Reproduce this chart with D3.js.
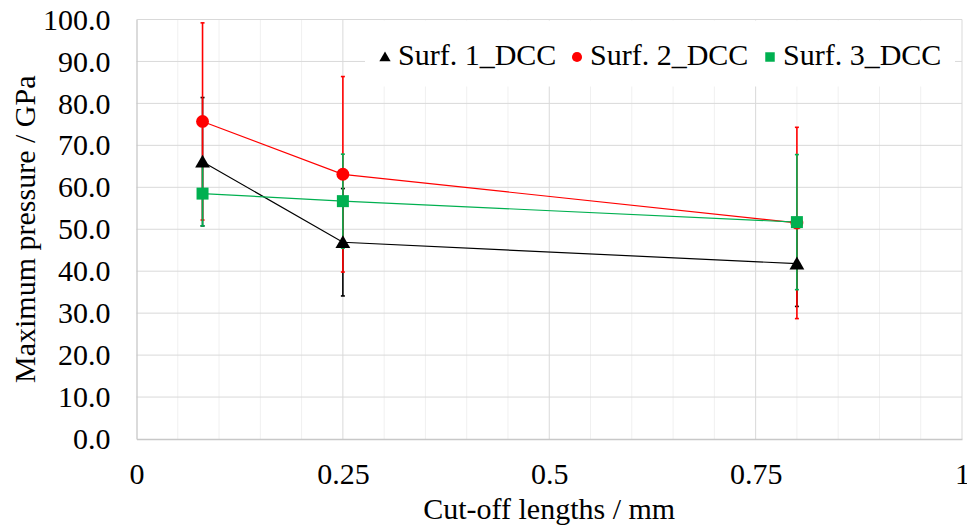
<!DOCTYPE html>
<html>
<head>
<meta charset="utf-8">
<script src="https://cdn.jsdelivr.net/npm/d3@7"></script>
<style>
  body { margin: 0; background: #fff; }
  svg text { font-family: "Liberation Serif", "Times New Roman", Times, "Tinos", "DejaVu Serif", serif !important; }
</style>
</head>
<body>
<svg id="chart" width="967" height="529"></svg>
<script>
const cutoffs = [0.08, 0.25, 0.8];
const seriesNames = ["Surf. 1_DCC", "Surf. 2_DCC", "Surf. 3_DCC"];
const surf1 = [66.1, 46.9, 41.8];
const surf1Err = [15.3, 12.8, 10.2];
const surf2 = [75.7, 63.1, 51.5];
const surf2Err = [23.5, 23.3, 22.8];
const surf3 = [58.5, 56.7, 51.7];
const surf3Err = [7.7, 11.2, 16.1];
const xTicks = [0, 0.25, 0.5, 0.75, 1];
const yTicks = [0, 10, 20, 30, 40, 50, 60, 70, 80, 90, 100];
const xTitle = "Cut-off lengths / mm";
const yTitle = "Maximum pressure / GPa";

const colors = ["#000000", "#ff0000", "#00b050"];
const shapes = [d3.symbolTriangle, d3.symbolCircle, d3.symbolSquare];
const series = [
  { name: seriesNames[0], vals: surf1, err: surf1Err },
  { name: seriesNames[1], vals: surf2, err: surf2Err },
  { name: seriesNames[2], vals: surf3, err: surf3Err }
];

const svg = d3.select("#chart");
const L = 136.5, R = 962, T = 19.5, B = 439;
const x = d3.scaleLinear().domain([0, 1]).range([L, R]);
const y = d3.scaleLinear().domain([0, 100]).range([B, T]);

// minor vertical gridlines
const minor = d3.range(0, 1.0001, 0.05).filter(v => Math.abs((v * 4) - Math.round(v * 4)) > 1e-6);
svg.append("g").selectAll("line").data(minor).join("line")
  .attr("x1", d => x(d)).attr("x2", d => x(d)).attr("y1", T).attr("y2", B)
  .attr("stroke", "#f0f0f0").attr("stroke-width", 1);
// major vertical gridlines
svg.append("g").selectAll("line").data(xTicks.slice(1)).join("line")
  .attr("x1", d => x(d)).attr("x2", d => x(d)).attr("y1", T).attr("y2", B)
  .attr("stroke", "#d9d9d9").attr("stroke-width", 1);
// horizontal gridlines
svg.append("g").selectAll("line").data(yTicks.slice(1)).join("line")
  .attr("x1", L).attr("x2", R).attr("y1", d => y(d)).attr("y2", d => y(d))
  .attr("stroke", "#d9d9d9").attr("stroke-width", 1);

// axes
const xAxis = svg.append("g").attr("transform", `translate(0,${B})`)
  .call(d3.axisBottom(x).tickValues(xTicks).tickSize(0).tickPadding(24).tickFormat(d => String(d)));
const yAxis = svg.append("g").attr("transform", `translate(${L},0)`)
  .call(d3.axisLeft(y).tickValues(yTicks).tickSize(0).tickPadding(26).tickFormat(d3.format(".1f")));
[xAxis, yAxis].forEach(a => {
  a.attr("font-family", null).attr("font-size", null);
  a.select(".domain").attr("stroke", "#c8c8c8").attr("stroke-width", 1.3);
  a.selectAll("text").attr("font-size", 30).attr("fill", "#000");
});
xAxis.selectAll("text").attr("dy", "0.71em");

// legend background box (hides gridlines)
svg.append("rect").attr("x", 365).attr("y", T + 1).attr("width", 590).attr("height", 66).attr("fill", "#fff");

// error bars
const errG = svg.append("g");
series.forEach((s, i) => {
  const g = errG.append("g").attr("stroke", colors[i]).attr("stroke-width", 1.6);
  cutoffs.forEach((c, j) => {
    const cx = x(c), y1 = y(s.vals[j] + s.err[j]), y0 = y(s.vals[j] - s.err[j]);
    g.append("line").attr("x1", cx).attr("x2", cx).attr("y1", y1).attr("y2", y0);
    g.append("line").attr("x1", cx - 2).attr("x2", cx + 2).attr("y1", y1).attr("y2", y1);
    g.append("line").attr("x1", cx - 2).attr("x2", cx + 2).attr("y1", y0).attr("y2", y0);
  });
});

// lines
const line = d3.line().x((d, j) => x(cutoffs[j])).y(d => y(d));
series.forEach((s, i) => {
  svg.append("path").attr("d", line(s.vals)).attr("fill", "none")
    .attr("stroke", colors[i]).attr("stroke-width", 1.2);
});

// markers
const symSizes = [95, 130, 144];
series.forEach((s, i) => {
  svg.append("g").selectAll("path").data(s.vals).join("path")
    .attr("transform", (d, j) => `translate(${x(cutoffs[j])},${y(d) + (i === 0 ? 1.5 : 0)})`)
    .attr("d", d3.symbol().type(shapes[i]).size(symSizes[i]))
    .attr("fill", colors[i]);
});

// legend
const legX = [385, 577, 770];
const legSizes = [55, 80, 90];
series.forEach((s, i) => {
  svg.append("path").attr("transform", `translate(${legX[i]},${i === 0 ? 58 : 57})`)
    .attr("d", d3.symbol().type(shapes[i]).size(legSizes[i])).attr("fill", colors[i]);
  svg.append("text").attr("x", legX[i] + 13).attr("y", 65)
    .attr("font-size", 30).attr("fill", "#000").text(s.name);
});

// axis titles
svg.append("text").attr("x", (L + R) / 2).attr("y", 519).attr("text-anchor", "middle")
  .attr("font-size", 30).attr("fill", "#000").text(xTitle);
svg.append("text").attr("transform", `translate(35,${(T + B) / 2}) rotate(-90)`)
  .attr("text-anchor", "middle").attr("font-size", 30).attr("fill", "#000").text(yTitle);
</script>
</body>
</html>
